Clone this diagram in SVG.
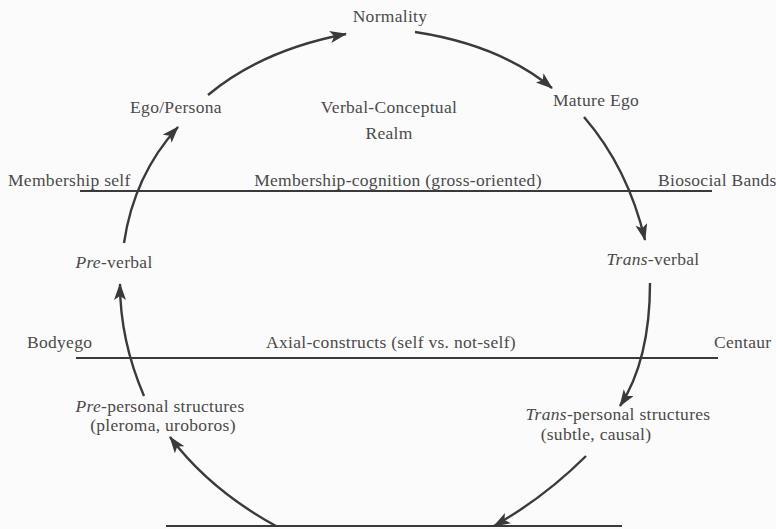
<svg xmlns="http://www.w3.org/2000/svg" width="776" height="529" viewBox="0 0 776 529">
<defs>
<marker id="ah" markerUnits="userSpaceOnUse" markerWidth="18" markerHeight="14" refX="16" refY="6" orient="auto">
<path d="M0,0 L17,6 L0,12 L4,6 Z" fill="#3a3a3a"/>
</marker>
<style>
text{font-family:"Liberation Serif","DejaVu Serif",serif;font-size:17.5px;letter-spacing:0.3px;fill:#4a4a4a}
.c{text-anchor:middle}
.i{font-style:italic}
.band{stroke:#3a3a3a;stroke-width:2;fill:none}
.arr{stroke:#3a3a3a;stroke-width:2.4;fill:none;marker-end:url(#ah)}
</style>
</defs>
<rect width="776" height="529" fill="#fcfbfc"/>
<g id="bands">
<line class="band" x1="80" y1="191" x2="712" y2="191"/>
<line class="band" x1="76" y1="358" x2="718" y2="358"/>
<line class="band" x1="166" y1="526" x2="622" y2="526"/>
</g>
<g id="band-labels">
<text x="8" y="186">Membership self</text>
<text x="398" y="186" class="c">Membership-cognition (gross-oriented)</text>
<text x="658" y="186">Biosocial Bands</text>
<text x="27" y="348">Bodyego</text>
<text x="391" y="348" class="c">Axial-constructs (self vs. not-self)</text>
<text x="714" y="348">Centaur</text>
</g>
<g id="realm"><text x="389" y="113" class="c">Verbal-Conceptual</text><text x="389" y="139" class="c">Realm</text></g>
<g id="normality"><text x="390" y="22" class="c">Normality</text></g>
<g id="ego-persona"><text x="176" y="113" class="c">Ego/Persona</text></g>
<g id="mature-ego"><text x="596" y="106" class="c">Mature Ego</text></g>
<g id="pre-verbal"><text x="114" y="268" class="c"><tspan class="i">Pre</tspan>-verbal</text></g>
<g id="trans-verbal"><text x="653" y="265" class="c"><tspan class="i">Trans</tspan>-verbal</text></g>
<g id="pre-personal"><text x="160" y="412" class="c"><tspan class="i">Pre</tspan>-personal structures</text><text x="163" y="431" class="c">(pleroma, uroboros)</text></g>
<g id="trans-personal"><text x="618" y="420" class="c"><tspan class="i">Trans</tspan>-personal structures</text><text x="596" y="440" class="c">(subtle, causal)</text></g>
<g id="connectors">
<path class="arr" d="M208 95 Q262 50 346 34"/>
<path class="arr" d="M415 32 Q500 45 552 88"/>
<path class="arr" d="M584 117 Q628 168 645 240"/>
<path class="arr" d="M650 283 Q650 360 620 406"/>
<path class="arr" d="M586 456 Q545 497 494 526"/>
<path class="arr" d="M276 526 Q210 490 170 437"/>
<path class="arr" d="M144 396 Q120 340 120 284"/>
<path class="arr" d="M124 243 Q134 175 178 127"/>
</g>
</svg>
